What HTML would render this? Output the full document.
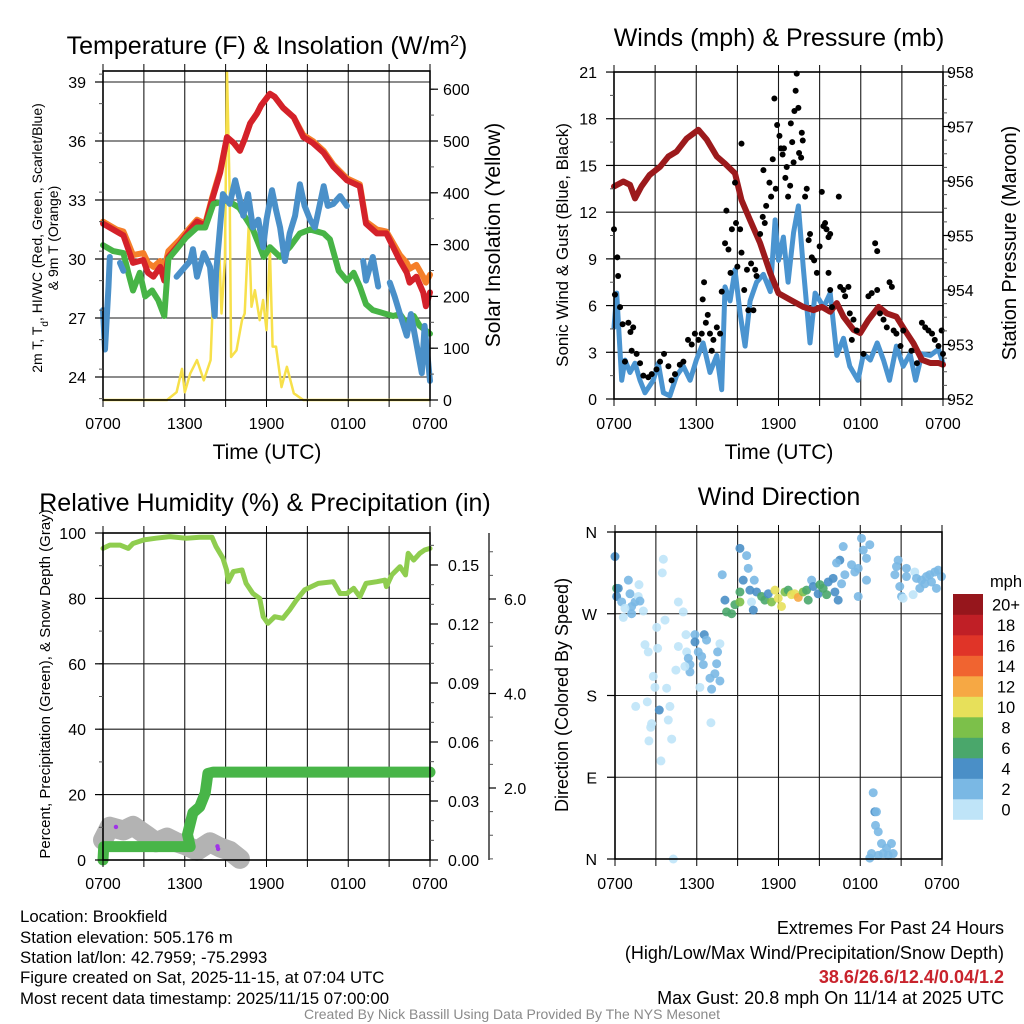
<!DOCTYPE html>
<html><head><meta charset="utf-8"><style>
html,body{margin:0;padding:0;background:#fff;}
svg{display:block;font-family:"Liberation Sans",Arial,sans-serif;}
</style></head><body>
<svg id="chart" width="1024" height="1024" viewBox="0 0 1024 1024" xmlns="http://www.w3.org/2000/svg">
<rect width="1024" height="1024" fill="#fff"/>
<g id="p1"></g>
<g id="p2"></g>
<g id="p3"></g>
<g id="p4"></g>
<text x="267" y="54" font-size="25" text-anchor="middle">Temperature (F) &amp; Insolation (W/m<tspan baseline-shift="super" font-size="16">2</tspan>)</text>
<text x="779" y="46" font-size="25" text-anchor="middle">Winds (mph) &amp; Pressure (mb)</text>
<text x="265" y="511" font-size="25" text-anchor="middle">Relative Humidity (%) &amp; Precipitation (in)</text>
<text x="779" y="505" font-size="25" text-anchor="middle">Wind Direction</text>
<text x="267" y="459" font-size="21" text-anchor="middle">Time (UTC)</text>
<text x="779" y="459" font-size="21" text-anchor="middle">Time (UTC)</text>
<text transform="translate(42,238) rotate(-90)" font-size="14" text-anchor="middle">2m T, T<tspan baseline-shift="sub" font-size="10">d</tspan>, HI/WC (Red, Green, Scarlet/Blue)</text>
<text transform="translate(58,238) rotate(-90)" font-size="14" text-anchor="middle">&amp; 9m T (Orange)</text>
<text transform="translate(500,235) rotate(-90)" font-size="21" text-anchor="middle">Solar Insolation (Yellow)</text>
<text transform="translate(568,245) rotate(-90)" font-size="17" text-anchor="middle">Sonic Wind &amp; Gust (Blue, Black)</text>
<text transform="translate(1016,243) rotate(-90)" font-size="20" text-anchor="middle">Station Pressure (Maroon)</text>
<text transform="translate(50,684) rotate(-90)" font-size="15" text-anchor="middle">Percent, Precipitation (Green), &amp; Snow Depth (Gray)</text>
<text transform="translate(568,695) rotate(-90)" font-size="18" text-anchor="middle">Direction (Colored By Speed)</text>
<g font-size="16.8">
<text x="20" y="922">Location: Brookfield</text>
<text x="20" y="943">Station elevation: 505.176 m</text>
<text x="20" y="963">Station lat/lon: 42.7959; -75.2993</text>
<text x="20" y="983">Figure created on Sat, 2025-11-15, at 07:04 UTC</text>
<text x="20" y="1004">Most recent data timestamp: 2025/11/15 07:00:00</text>
</g>
<g font-size="18" text-anchor="end">
<text x="1004" y="934">Extremes For Past 24 Hours</text>
<text x="1004" y="959">(High/Low/Max Wind/Precipitation/Snow Depth)</text>
<text x="1004" y="983" fill="#c8232c" font-weight="bold">38.6/26.6/12.4/0.04/1.2</text>
<text x="1004" y="1004">Max Gust: 20.8 mph On 11/14 at 2025 UTC</text>
</g>
<text x="512" y="1019" font-size="14" fill="#8a8a8a" text-anchor="middle">Created By Nick Bassill Using Data Provided By The NYS Mesonet</text>
</svg>
<script>
// ---------- data ----------
const xTickLabels = ["0700","1300","1900","0100","0700"];
const xTickHours = [0,6,12,18,24];
const tempTicks = [24,27,30,33,36,39];
const insolTicks = [0,100,200,300,400,500,600];
const windTicks = [0,3,6,9,12,15,18,21];
const presTicks = [952,953,954,955,956,957,958];
const rhTicks = [0,20,40,60,80,100];
const precipTicks = ["0.00","0.03","0.06","0.09","0.12","0.15"];
const snowTicks = ["2.0","4.0","6.0"];
const dirLabels = ["N","E","S","W","N"];
const dirDegs = [0,90,180,270,360];
const cbLabels = ["0","2","4","6","8","10","12","14","16","18","20+"];
const cbColors = ["#bfe4f8","#7ab8e4","#4a8fc7","#4aa76b","#7cc04a","#e7e05a","#f6a844","#f06430","#e03428","#c01f26","#96161c"];

const redH = [0,1,1.5,1.86,2.2,2.96,3.3,3.7,4.2,4.5,4.8,5.65,6.4,6.9,7.5,8,8.6,9.1,9.6,10.05,10.4,10.8,11.3,11.6,12.25,12.6,13.2,14,14.7,15.4,16.2,16.9,17.9,18.85,19.3,20.1,20.8,21.3,21.8,22.3,22.5,23,23.5,23.7,24];
const redT = [31.8,31.4,31.2,30.5,29.8,29.95,29.3,29.1,29.6,28.9,30.1,30.8,31.5,31.9,31.7,33,34.4,36.2,35.9,35.5,36.1,36.9,37.4,37.8,38.4,38.25,37.7,37.2,36.2,35.9,35.4,34.7,34,33.7,31.8,31.3,31.3,30.6,29.9,29.3,28.8,29.1,28.3,27.6,28.3];
const orangeT = [31.9,31.5,31.4,30.8,30.2,30.3,29.8,29.6,29.9,29.5,30.4,31,31.6,32,31.8,33.1,34.5,36.2,35.9,35.5,36.1,36.9,37.4,37.8,38.4,38.25,37.7,37.2,36.3,36,35.5,34.8,34.1,33.8,31.9,31.5,31.4,30.8,30.2,29.8,29.5,29.7,29.1,28.8,29.2];
const greenH = [0,0.75,1.5,1.86,2.2,2.7,3.1,3.6,4.06,4.5,4.8,5.4,6.1,6.9,7.5,8.1,8.7,9.1,10,11,11.8,12.25,13,13.7,14.45,15.2,16.2,16.65,17.3,17.9,18.4,18.85,19.3,19.8,20.8,21.3,21.8,22.3,22.8,23.25,24];
const greenT = [30.7,30.4,30.3,29.3,28.4,29.3,28.1,28.4,27.9,27.1,30,30.5,31.1,31.6,31.6,32.8,32.9,33,32.6,31.5,30.1,30.6,30.1,30.6,31.3,31.5,31.3,31,29.4,28.9,29.3,28.6,27.7,27.4,27.2,27.1,27.2,26.7,27.1,26.6,26.2];
const blueH = [0,0.15,0.4,0.5,0.7,1.25,1.5,1.6,5.4,6.4,6.6,6.9,7.4,7.85,8.2,8.3,8.8,9.3,9.7,10.05,10.3,10.65,11,11.4,11.75,12,12.4,12.7,13,13.35,13.7,14.1,14.45,14.8,15.2,15.55,16.2,16.5,16.9,17.4,17.9,18.1,18.5,18.6,19.1,19.3,19.8,20.2,20.5,21.05,21.4,21.8,22.3,22.6,23,23.4,23.6,24];
const blueT = [27.4,25.4,28.6,30.1,null,29.8,29.4,null,29.1,29.9,30.5,29.1,30.3,29.6,27.1,29.3,33.3,32.8,34,33,32.2,33.3,31.6,32,30.6,32,33.5,32.5,31.6,29.9,31.3,32.2,33.8,32.7,32,31.6,33.7,32.7,32.8,33.2,32.7,null,32.3,null,29.9,28.9,30.1,28.6,null,28.8,28.1,27.2,26.1,27.2,25.7,24.2,26.6,23.8];
const insolH = [0,4.7,5.4,5.8,6,6.4,6.9,7.4,7.9,8.1,8.5,8.7,8.95,9.1,9.3,9.4,9.8,10.2,10.4,10.7,10.9,11.15,11.5,11.75,12,12.25,12.45,12.7,13.1,13.5,14,14.7,24];
const insolW = [0,0,15,60,15,51,77,38,77,218,315,167,270,634,399,83,96,154,167,341,180,212,154,193,135,289,103,103,25,64,13,0,0];

const windH = [0,0.2,0.56,0.8,1.17,1.53,1.9,2.26,2.87,3.23,3.6,4.08,4.57,5.06,5.55,6,6.5,7,7.5,7.86,8.1,8.47,8.83,9.2,9.56,9.93,10.4,10.9,11.4,11.75,12,12.36,12.7,13.1,13.45,13.8,14.3,14.67,15.3,15.77,16.25,16.74,17.2,17.8,18.2,18.7,19.2,19.66,20.1,20.6,21.1,21.6,22,22.46,23.07,23.67,24];
const windS = [4.6,6.8,1.2,2.5,1.7,2.3,1.2,0.4,1.2,2.3,0.4,0.2,1.5,2.1,1.2,2.5,3.6,1.7,2.8,0.6,7.2,6.3,8.3,5.5,3.4,6.3,7.5,8,6.9,11.5,8.9,10.4,7.5,10.7,12.4,8.5,3.6,6.8,5.9,6.8,2.8,3.9,2.1,1.2,2.9,2.5,3.6,2.5,1.2,3.4,2.1,2.9,1.2,2.9,2.8,3.2,2.3];
const gustH = [0,0.24,0.3,0.07,0.44,0.63,1.05,1.4,1.2,0.8,1.29,1.65,1.9,2.14,2.5,2.75,3.1,3.36,3.65,3.97,4.2,4.45,4.8,5.06,5.4,5.67,5.9,6.16,6.4,6.57,6.47,6.7,6.84,7,7.25,7.5,7.74,7.13,7.86,8.1,8.2,8.35,8.5,8.6,8.83,8.9,9,9.2,9.3,9.3,9.5,9.7,9.8,10,10.3,10.17,10.4,10.66,10.85,10.9,11,11.1,11.34,11.46,11.58,11.7,11.8,11.9,12.07,12.17,12.3,12.4,12.5,12.6,12.7,12.85,12.9,13,13.1,13.16,13.25,13.33,13.45,13.5,13.65,13.7,13.77,13.94,14.06,14.2,14.3,14.43,14.6,14.8,15,15.28,15.4,15.5,15.65,15.77,15.65,15.77,15.9,15.16,16.4,16.5,16.74,16.86,17.1,17.2,17.47,17.35,17.7,18.2,18.56,18.8,19.05,19.2,19.2,19.4,19.66,19.9,20.1,20.27,20.4,20.6,20.9,21.1,21.7,22.1,22.46,22.7,22.94,23.2,23.4,23.67,23.9,24];
const gustS = [10.9,9.1,7.9,6.7,5.9,4.8,4.9,4.6,4.3,2.4,3.1,2.9,2.3,1.5,1.4,1.6,1.9,2.4,2.9,2.1,1.2,1.6,2.2,2.4,3.8,3.5,4.2,3.8,4.2,7.5,6.4,4.9,5.4,4.2,3.8,4.6,4.2,3.1,6.9,10,12.1,9.6,8.1,10.9,13.9,11.3,8.5,10.9,9.4,16.4,7,8.3,5.7,8.7,8.3,5.7,7.9,10.6,11.7,14.7,11.3,12.4,13.9,13,15.4,19.3,13.5,17.6,16.9,16.1,15.7,16.1,14.2,14.9,13,13.7,17.7,16.5,15.2,18.5,19.8,20.9,18.7,15.8,15.5,17.1,16.6,13,13.5,10.2,10.6,9.1,8.9,8.1,9.8,11.1,11.3,10.9,10.4,10.6,8.1,7,5.9,13.3,13,7.2,7,6.6,7.2,5.5,5.1,3.8,4.4,2.9,6.6,6.8,10,9.5,7,5.5,5.1,4.6,7.5,7.2,4.4,4.2,3.4,4.4,3.1,2.3,4.9,4.6,4.4,4.2,3.8,3.4,4.4,2.9];
const presH = [0,0.68,1.17,1.53,2,2.6,3.36,3.97,4.57,5.3,6.16,6.76,7.5,8.1,8.83,9.3,9.93,10.66,11.4,12,12.85,13.8,14.55,15.16,15.77,16.25,16.74,17.47,17.96,18.56,19.3,19.9,20.6,21.2,21.85,22.46,23.07,23.67,24];
const presMb = [955.9,955.99,955.93,955.68,955.9,956.11,956.26,956.45,956.54,956.78,956.94,956.76,956.45,956.32,956.14,955.65,955.28,954.86,954.31,953.94,953.82,953.69,953.63,953.69,953.6,953.76,953.51,953.27,953.21,953.45,953.69,953.57,953.51,953.27,953.02,952.72,952.66,952.66,952.63];

const rhH = [0,0.5,1.25,1.86,2.2,3,3.9,4.9,6.1,7.1,8,8.3,8.8,9.07,9.2,9.56,10.2,10.5,11,11.5,11.76,12.1,12.6,13.2,13.7,14.2,14.8,15.8,16.9,17.4,17.9,18.4,18.85,19.3,20.1,20.7,20.8,21.2,21.8,22.2,22.4,22.8,23.25,23.6,24];
const rhPct = [95.3,96.3,96.3,95.3,96.8,97.9,98.4,98.9,98.4,98.7,98.7,95.8,92.3,88.7,85.1,88.2,88.7,84.6,81.5,80,74.4,72.4,74.4,73.9,76.5,79.5,82.6,84.6,85.1,81.5,81.5,83.1,80.5,84.6,85.1,85.6,83.6,87.2,89.7,87.2,93.8,91.7,93.8,94.8,95.3];
const precipH = [0,0.05,6.4,6.2,6.6,7.1,7.5,7.6,7.7,8.1,24];
const precipIn = [0,0.0068,0.0068,0.013,0.024,0.027,0.034,0.039,0.044,0.0447,0.0447];
const snowH = [0,0.5,1.5,2.2,3.2,3.9,4.7,5.4,6.1,6.9,7.85,8.6,9.3,10.05];
const snowIn = [0.9,1.18,1.1,1.2,1.0,0.85,0.95,0.85,0.78,0.67,0.85,0.74,0.67,0.5];
const purpleH = [0.95,8.4,8.45];
const purpleVal = [10.1,4.2,3.4];

const dirH = [0,0.12,0.24,0.12,0.49,0.98,1.1,1.22,1.47,1.71,1.76,1.83,2.08,0.61,0.73,1.22,3.55,3.47,4.65,5.01,3.06,3.67,2.2,2.44,3.13,2.81,2.93,3.79,1.52,2.37,3.25,4.03,3.91,2.69,2.62,2.49,4.16,3.37,7.04,4.28,5.21,5.87,6.55,6.72,5.87,4.65,5.26,6.11,5.38,6.36,5.5,6.48,4.47,5.5,7.7,7.53,7.46,7.33,6.97,7.7,6.23,7.09,5.13,7.87,9.17,9.66,9.78,9.41,10.22,8.07,8.19,8.56,8.8,9.17,9.17,9.9,10.02,10.15,10.39,10.76,11,11.25,11.49,11.74,11.98,12.22,12.47,12.71,12.96,13.2,13.45,13.81,14.06,14.18,14.43,14.55,14.91,15.04,15.28,15.53,15.65,16.01,16.14,16.38,16.5,16.75,16.26,16.63,16.87,17.36,17.6,17.85,18.09,18.22,18.46,18.7,17.85,18.46,20.78,20.66,20.54,21.39,21.39,22,20.9,21.03,21.15,21.88,22.13,22.49,22.86,23.1,23.47,23.72,23.96,23.59,22.37,22.74,23.23,18.95,19.07,19.19,19.12,19.32,19.56,20.29,19.93,19.68,18.83,18.7,20.42,20.05,19.32];
const dirDeg = [333,298,298,289,283,307,292,278,283,289,302,284,273,266,276,270,330,315,283,272,255,263,236,228,232,201,189,188,168,173,164,168,153,149,145,130,132,108,150,0,247,247,247,241,239,234,228,228,221,223,214,214,208,206,237,228,215,204,199,196,189,187,212,313,342,334,320,307,307,285,272,270,280,283,294,296,283,274,294,289,285,292,283,296,287,278,294,296,291,292,288,294,296,285,307,300,292,302,298,291,305,309,294,285,329,344,326,303,313,324,316,320,353,340,331,346,289,307,329,322,313,320,311,316,300,289,287,291,309,307,311,313,316,318,311,298,298,303,305,73,52,52,37,30,17,17,12,6,6,1,6,4,4];
const dirSpd = [5,7,5,5,3,3,3,3,3,1,1,3,1,1,1,3,1,1,1,1,1,1,1,1,1,1,1,1,1,1,5,1,1,1,1,1,1,1,1,1,1,3,5,3,5,1,1,3,3,3,3,3,1,3,1,3,3,3,3,3,1,3,1,3,5,3,3,5,3,5,7,7,7,9,7,5,1,5,5,7,7,5,9,11,11,11,9,7,11,11,13,9,7,7,3,5,5,7,7,7,5,5,5,5,5,3,3,3,3,3,3,3,3,3,3,3,3,3,3,3,3,3,3,1,3,3,1,1,3,3,3,3,3,3,3,3,3,3,3,3,5,3,3,3,3,3,3,3,3,3,3,3,3];

// ---------- helpers ----------
const NS = "http://www.w3.org/2000/svg";
const TF = 16;
function mk(parent, tag, attrs, txt){
  const e = document.createElementNS(NS, tag);
  for (const k in attrs) e.setAttribute(k, attrs[k]);
  if (txt !== undefined) e.textContent = txt;
  parent.appendChild(e);
  return e;
}
function pathFrom(xs, ys, fx, fy){
  let d = "", pen = false;
  for (let i=0;i<xs.length;i++){
    if (ys[i]===null){ pen=false; continue; }
    d += (pen?"L":"M") + fx(xs[i]).toFixed(1) + "," + fy(ys[i]).toFixed(1);
    pen = true;
  }
  return d;
}
function grid(g, x0, x1, y0, y1, xs, ys){
  xs.forEach(x=>{ const l = mk(g,"line",{x1:x,x2:x,y1:y0,y2:y1,stroke:"#1a1a1a","stroke-width":1.1});
    
     });
  ys.forEach(y=>{ const l = mk(g,"line",{x1:x0,x2:x1,y1:y,y2:y,stroke:"#1a1a1a","stroke-width":1.1});
    
     });
}
function frame(g,x0,x1,y0,y1){
  const r = mk(g,"rect",{x:x0,y:y0,width:x1-x0,height:y1-y0,fill:"none",stroke:"#000","stroke-width":1.6});
  
  
}
function xAxis(g, fx, y0, y1, labY){
  for (let h=0; h<=24; h+=3){
    mk(g,"line",{x1:fx(h),x2:fx(h),y1:y1,y2:y1+7,stroke:"#000","stroke-width":1});
    mk(g,"line",{x1:fx(h),x2:fx(h),y1:y0,y2:y0-7,stroke:"#000","stroke-width":1});
  }
  xTickHours.forEach((h,i)=>{
    const t = mk(g,"text",{x:fx(h),y:labY,"font-size":TF,"text-anchor":"middle"}, xTickLabels[i]);
    
    
  });
}
function yTicks(g, x, dir, vals, fy, labels, anchorX, anchor, minorStep, lo, hi){
  if (minorStep){
    for (let v=lo; v<=hi+1e-9; v+=minorStep) mk(g,"line",{x1:x,x2:x+dir*4,y1:fy(v),y2:fy(v),stroke:"#555","stroke-width":1});
  }
  vals.forEach((v,i)=>{
    mk(g,"line",{x1:x,x2:x+dir*8,y1:fy(v),y2:fy(v),stroke:"#000","stroke-width":1.2});
    const t = mk(g,"text",{x:anchorX,y:fy(v)+6,"font-size":TF,"text-anchor":anchor}, labels[i]);
    
    
  });
}

// ---------- panel 1 ----------
(function(){
  const g = document.getElementById("p1");
  const X0=103,X1=430,Y0=71,Y1=400;
  const fx = h => X0 + h*(X1-X0)/24;
  const fyT = t => 82 + (39-t)*59/3;
  const fyI = w => 400 - w*0.518;
  const gx=[]; for(let h=3;h<24;h+=3) gx.push(fx(h));
  grid(g,X0,X1,Y0,Y1,gx,tempTicks.map(fyT));
  const ins = mk(g,"path",{d:pathFrom(insolH,insolW,fx,fyI),fill:"none",stroke:"#f7e04a","stroke-width":2.5,"stroke-linejoin":"round"});
   
  const or = mk(g,"path",{d:pathFrom(redH,orangeT,fx,fyT),fill:"none",stroke:"#f57f2a","stroke-width":6,"stroke-linejoin":"round","stroke-linecap":"round"});
   
  const rd = mk(g,"path",{d:pathFrom(redH,redT,fx,fyT),fill:"none",stroke:"#d4212a","stroke-width":6,"stroke-linejoin":"round","stroke-linecap":"round"});
   
  const gr = mk(g,"path",{d:pathFrom(greenH,greenT,fx,fyT),fill:"none",stroke:"#47b446","stroke-width":6,"stroke-linejoin":"round","stroke-linecap":"round"});
   
  const bl = mk(g,"path",{d:pathFrom(blueH,blueT,fx,fyT),fill:"none",stroke:"#4a90c9","stroke-width":6,"stroke-linejoin":"round","stroke-linecap":"round"});
   
  frame(g,X0,X1,Y0,Y1);
  xAxis(g,fx,Y0,Y1,429);
  yTicks(g,X0,-1,tempTicks,fyT,tempTicks.map(String),86,"end",1.5,22.9,39.5);
  yTicks(g,X1,1,insolTicks,fyI,insolTicks.map(String),443,"start",50,0,630);
})();

// ---------- panel 2 ----------
(function(){
  const g = document.getElementById("p2");
  const X0=614,X1=943,Y0=72,Y1=399;
  const fx = h => X0 + h*(X1-X0)/24;
  const fyW = m => 399 - m*15.57;
  const fyP = p => 399 - (p-952)*54.5;
  const gx=[]; for(let h=3;h<24;h+=3) gx.push(fx(h));
  grid(g,X0,X1,Y0,Y1,gx,windTicks.slice(1,-1).map(fyW));
  const w = mk(g,"path",{d:pathFrom(windH,windS,fx,fyW),fill:"none",stroke:"#4a94d0","stroke-width":5,"stroke-linejoin":"round","stroke-linecap":"round"});
   
  const p = mk(g,"path",{d:pathFrom(presH,presMb,fx,fyP),fill:"none",stroke:"#9c1a1c","stroke-width":6,"stroke-linejoin":"round","stroke-linecap":"round"});
   
  gustH.forEach((h,i)=>{
    const c = mk(g,"circle",{cx:fx(h),cy:fyW(gustS[i]),r:3,fill:"#000"});
    
    
  });
  frame(g,X0,X1,Y0,Y1);
  xAxis(g,fx,Y0,Y1,429);
  yTicks(g,X0,-1,windTicks,fyW,windTicks.map(String),597,"end",1.5,0,21);
  yTicks(g,X1,1,presTicks,fyP,presTicks.map(String),947,"start",0.25,952,958);
})();

// ---------- panel 3 ----------
(function(){
  const g = document.getElementById("p3");
  const X0=103,X1=430,Y0=533,Y1=860;
  const fx = h => X0 + h*(X1-X0)/24;
  const fyR = r => 860 - r*3.27;
  const fyPr = v => 860 - v*1966.7;
  const fyS = s => Math.min(860, 882.5 - s*47.25);
  const gx=[]; for(let h=3;h<24;h+=3) gx.push(fx(h));
  grid(g,X0,X1,Y0,Y1,gx,rhTicks.slice(1,-1).map(fyR));
  const sn = mk(g,"path",{d:pathFrom(snowH,snowIn,fx,fyS),fill:"none",stroke:"#b3b3b3","stroke-width":20,"stroke-linejoin":"round","stroke-linecap":"round"});
   
  const rh = mk(g,"path",{d:pathFrom(rhH,rhPct,fx,fyR),fill:"none",stroke:"#8fcd4f","stroke-width":5,"stroke-linejoin":"round","stroke-linecap":"round"});
   
  const pr = mk(g,"path",{d:pathFrom(precipH,precipIn,fx,fyPr),fill:"none",stroke:"#48b548","stroke-width":11,"stroke-linejoin":"round","stroke-linecap":"round"});
   
  purpleH.forEach((h,i)=>{
    const c = mk(g,"circle",{cx:fx(h),cy:fyR(purpleVal[i]),r:2.2,fill:"#a033e8"});
    
    
  });
  frame(g,X0,X1,Y0,Y1);
  xAxis(g,fx,Y0,Y1,889);
  yTicks(g,X0,-1,rhTicks,fyR,rhTicks.map(String),86,"end",10,0,100);
  const pv = precipTicks.map(Number);
  yTicks(g,X1,1,pv,fyPr,precipTicks,448,"start",0.01,0,0.16);
  const sa = mk(g,"line",{x1:489,x2:489,y1:533,y2:860,stroke:"#000","stroke-width":1.2});
   
  for (let s=0.5; s<=7.0; s+=0.5){ const y=fyS(s); if(y>=533&&y<=860) mk(g,"line",{x1:489,x2:493,y1:y,y2:y,stroke:"#555","stroke-width":1}); }
  snowTicks.forEach(l=>{
    const v = Number(l);
    mk(g,"line",{x1:489,x2:496,y1:fyS(v),y2:fyS(v),stroke:"#000","stroke-width":1.2});
    const t = mk(g,"text",{x:504,y:fyS(v)+6,"font-size":TF}, l);
    
    
  });
})();

// ---------- panel 4 ----------
(function(){
  const g = document.getElementById("p4");
  const X0=615,X1=942,Y0=532,Y1=859;
  const fx = h => X0 + h*(X1-X0)/24;
  const fyD = d => 859 - d*(Y1-Y0)/360;
  const gx=[]; for(let h=3;h<24;h+=3) gx.push(fx(h));
  grid(g,X0,X1,Y0,Y1,gx,[90,180,270].map(fyD));
  dirH.forEach((h,i)=>{
    const bin = Math.min(10, Math.floor(dirSpd[i]/2));
    const c = mk(g,"circle",{cx:fx(h),cy:fyD(dirDeg[i]),r:4.5,fill:cbColors[bin],"fill-opacity":0.9});
    
    
  });
  frame(g,X0,X1,Y0,Y1);
  xAxis(g,fx,Y0,Y1,889);
  yTicks(g,X0,-1,dirDegs,fyD,dirLabels,597,"end",null);
  const cb = mk(g,"g",{});
  
  
  const top=594, bh=20.5;
  cbLabels.forEach((l,i)=>{
    const k = cbLabels.length-1-i;
    const y = top + k*bh;
    const r = mk(cb,"rect",{x:953,y:y,width:30,height:bh+0.3,fill:cbColors[i]});
    
    
    const t = mk(cb,"text",{x:1006,y:y+bh/2+6,"font-size":16.5,"text-anchor":"middle"}, l);
    
    
  });
  const u = mk(cb,"text",{x:1006,y:587,"font-size":16.5,"text-anchor":"middle"},"mph");
  
  
})();
</script>
</body></html>
